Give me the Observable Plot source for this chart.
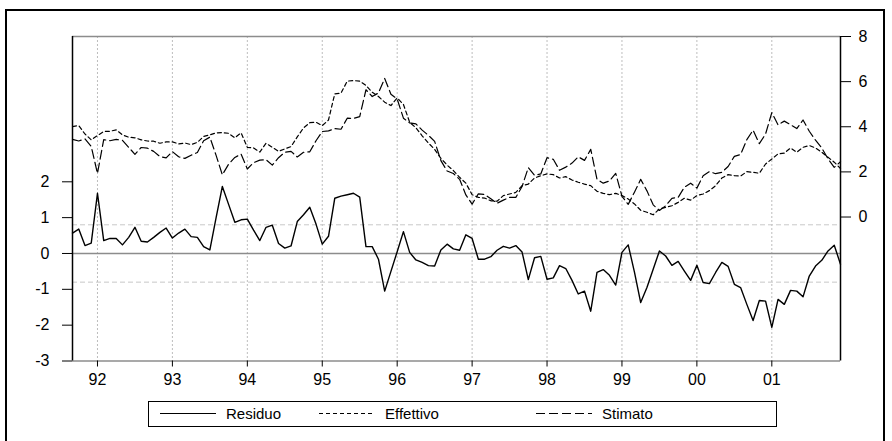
<!DOCTYPE html>
<html>
<head>
<meta charset="utf-8">
<script src="https://cdn.jsdelivr.net/npm/d3@7"></script>
<script src="https://cdn.jsdelivr.net/npm/@observablehq/plot@0.6"></script>
<style>
  html, body { margin: 0; padding: 0; background: #fff; }
  #wrap { position: relative; width: 892px; height: 441px; overflow: hidden; font-family: "Liberation Sans", Arial, sans-serif; }
  #border { position: absolute; left: 5px; top: 9px; width: 880px; height: 460px; border: 2px solid #000; box-sizing: border-box; }
  .layer { position: absolute; left: 0; top: 0; }
  .layer svg text { font-family: "Liberation Sans", Arial, sans-serif !important; font-size: 16px !important; fill: #000; }
  #legend { position: absolute; left: 148px; top: 401px; width: 629px; height: 26px; border: 1px solid #000; box-sizing: border-box; background: #fff; }
</style>
</head>
<body>
<div id="wrap">
  <div id="border"></div>
  <div id="resid" class="layer"></div>
  <div id="level" class="layer"></div>
  <div id="legend"></div>
</div>
<script>
// Monthly sample 1991:09 – 2001:12
const startYear = 1991, startMonth = 9;

// Residuo (left axis)
const residuo = [
  0.57, 0.68, 0.22, 0.29, 1.68, 0.36, 0.42, 0.42, 0.24, 0.45, 0.73, 0.34,
  0.32, 0.45, 0.59, 0.71, 0.43, 0.57, 0.68, 0.47, 0.45, 0.19, 0.10, 1.00,
  1.87, 1.37, 0.87, 0.94, 0.96, 0.65, 0.36, 0.73, 0.79, 0.28, 0.15, 0.21,
  0.89, 1.08, 1.29, 0.82, 0.26, 0.48, 1.54, 1.60, 1.64, 1.68, 1.57, 0.19,
  0.19, -0.16, -1.05, -0.50, 0.05, 0.61, 0.03, -0.18, -0.25, -0.34, -0.35, 0.10,
  0.26, 0.13, 0.09, 0.52, 0.42, -0.16, -0.16, -0.09, 0.09, 0.20, 0.15, 0.22,
  0.04, -0.73, -0.12, -0.08, -0.72, -0.68, -0.34, -0.42, -0.75, -1.13, -1.05, -1.61,
  -0.53, -0.45, -0.61, -0.88, 0.03, 0.24, -0.52, -1.37, -0.95, -0.44, 0.07, -0.07,
  -0.33, -0.22, -0.49, -0.75, -0.33, -0.81, -0.84, -0.53, -0.25, -0.36, -0.86, -0.95,
  -1.42, -1.87, -1.31, -1.33, -2.06, -1.28, -1.42, -1.03, -1.05, -1.21, -0.63, -0.35,
  -0.19, 0.07, 0.23, -0.30
];

// Effettivo (right axis)
const effettivo = [
  4.01, 4.05, 3.68, 3.42, 3.61, 3.79, 3.80, 3.86, 3.64, 3.54, 3.51, 3.42,
  3.37, 3.36, 3.27, 3.33, 3.33, 3.24, 3.28, 3.21, 3.31, 3.57, 3.64, 3.73,
  3.74, 3.71, 3.51, 3.73, 3.09, 3.06, 2.88, 3.27, 3.09, 2.91, 3.02, 3.12,
  3.55, 3.95, 4.18, 4.20, 4.05, 4.30, 5.46, 5.49, 6.02, 6.05, 6.02, 5.83,
  5.53, 5.34, 5.09, 4.94, 5.28, 4.99, 4.20, 3.95, 3.60, 3.28, 3.00, 2.60,
  2.30, 2.06, 1.76, 1.50, 0.99, 0.87, 0.84, 0.72, 0.70, 0.95, 1.02, 1.09,
  1.39, 1.46, 1.73, 1.83, 1.91, 1.88, 1.73, 1.79, 1.64, 1.54, 1.46, 1.39,
  1.14, 1.05, 0.99, 1.05, 0.95, 0.80, 0.58, 0.30, 0.21, 0.10, 0.36, 0.43,
  0.50, 0.65, 0.83, 0.75, 0.95, 1.02, 1.17, 1.39, 1.73, 1.88, 1.83, 1.82,
  2.01, 1.98, 1.94, 2.35, 2.57, 2.80, 2.83, 3.06, 2.87, 3.09, 3.17, 3.06,
  2.87, 2.65, 2.43, 2.15
];

// Stimato (right axis)
const stimato = [
  3.44, 3.37, 3.46, 3.13, 1.93, 3.43, 3.38, 3.44, 3.40, 3.09, 2.78, 3.08,
  3.05, 2.91, 2.68, 2.62, 2.90, 2.67, 2.60, 2.74, 2.86, 3.38, 3.54, 2.73,
  1.87, 2.34, 2.64, 2.79, 2.13, 2.41, 2.52, 2.54, 2.30, 2.63, 2.87, 2.91,
  2.66, 2.87, 2.89, 3.38, 3.79, 3.82, 3.92, 3.89, 4.38, 4.37, 4.45, 5.64,
  5.34, 5.50, 6.14, 5.44, 5.23, 4.38, 4.17, 4.13, 3.85, 3.62, 3.35, 2.50,
  2.04, 1.93, 1.67, 0.98, 0.57, 1.03, 1.00, 0.81, 0.61, 0.75, 0.87, 0.87,
  1.35, 2.19, 1.85, 1.91, 2.63, 2.56, 2.07, 2.21, 2.39, 2.67, 2.51, 3.00,
  1.67, 1.50, 1.60, 1.93, 0.92, 0.56, 1.10, 1.67, 1.16, 0.54, 0.29, 0.50,
  0.83, 0.87, 1.32, 1.50, 1.28, 1.83, 2.01, 1.92, 1.98, 2.24, 2.69, 2.77,
  3.43, 3.85, 3.25, 3.68, 4.63, 4.08, 4.25, 4.09, 3.92, 4.30, 3.80, 3.41,
  3.06, 2.58, 2.20, 2.45
];

// One standard error band around zero
const stdErr = 0.8;

const yearTicks = [1992, 1993, 1994, 1995, 1996, 1997, 1998, 1999, 2000, 2001];
const yearLabels = ["92", "93", "94", "95", "96", "97", "98", "99", "00", "01"];
const leftTicks = [-3, -2, -1, 0, 1, 2];
const rightTicks = [0, 2, 4, 6, 8];
const legendLabels = ["Residuo", "Effettivo", "Stimato"];

// Time as fractional year, one step per month
const t0 = startYear + (startMonth - 1) / 12;
const toRows = arr => arr.map((v, i) => ({t: t0 + i / 12, v}));
const rRows = toRows(residuo), eRows = toRows(effettivo), sRows = toRows(stimato);
const xDomain = [t0, t0 + (residuo.length - 1) / 12];

const W = 892, H = 391;
const FONT = "'Liberation Sans', Arial, sans-serif";
const common = {
  width: W, height: H,
  marginLeft: 72, marginRight: 52, marginTop: 36, marginBottom: 30.5,
  style: {fontFamily: FONT, fontSize: "16px", color: "#000", background: "transparent", overflow: "visible"}
};

// Residual layer: grid, reference lines, residual, left & bottom axes
const resid = Plot.plot({
  ...common,
  x: {domain: xDomain},
  y: {domain: [-3, 6.054]},
  marks: [
    Plot.ruleX(yearTicks, {stroke: "#bdbdbd", strokeDasharray: "2,2", strokeWidth: 1}),
    Plot.ruleY([-stdErr, stdErr], {stroke: "#c8c8c8", strokeDasharray: "5,3", strokeWidth: 1}),
    Plot.ruleY([0], {stroke: "#8c8c8c", strokeWidth: 1.5}),
    Plot.ruleY([-3, 6.054], {stroke: "#8c8c8c", strokeWidth: 1.5}),
    Plot.ruleX([xDomain[0]], {stroke: "#000", strokeWidth: 1.5}),
    Plot.line(rRows, {x: "t", y: "v", stroke: "#000", strokeWidth: 1.4}),
    Plot.axisY(leftTicks, {anchor: "left", tickSize: 10, tickPadding: 13, tickFormat: d => String(d), label: null}),
    Plot.axisX(yearTicks, {anchor: "bottom", tickSize: 6, tickPadding: 7, tickFormat: d => yearLabels[yearTicks.indexOf(d)], label: null})
  ]
});
document.getElementById("resid").append(resid);

// Level layer: actual and fitted, right axis
const level = Plot.plot({
  ...common,
  x: {domain: xDomain, axis: null},
  y: {domain: [-6.38, 8], axis: null},
  marks: [
    Plot.ruleX([xDomain[1]], {y1: -6.38, y2: 8, stroke: "#000", strokeWidth: 1.5}),
    Plot.line(eRows, {x: "t", y: "v", stroke: "#000", strokeWidth: 1.2, strokeDasharray: "4,3"}),
    Plot.line(sRows, {x: "t", y: "v", stroke: "#000", strokeWidth: 1.2, strokeDasharray: "9,4"}),
    Plot.axisY(rightTicks, {anchor: "right", tickSize: 10, tickPadding: 8, tickFormat: d => String(d), label: null})
  ]
});
document.getElementById("level").append(level);

// Legend row
const legendItems = [
  {label: legendLabels[0], x: 11, dash: null},
  {label: legendLabels[1], x: 170, dash: "4,3"},
  {label: legendLabels[2], x: 387, dash: "9,4"}
];
const ns = "http://www.w3.org/2000/svg";
const lsvg = document.createElementNS(ns, "svg");
lsvg.setAttribute("width", 627);
lsvg.setAttribute("height", 24);
lsvg.style.fontFamily = FONT;
lsvg.style.fontSize = "15px";
for (const it of legendItems) {
  const ln = document.createElementNS(ns, "line");
  ln.setAttribute("x1", it.x); ln.setAttribute("x2", it.x + 56);
  ln.setAttribute("y1", 11.5); ln.setAttribute("y2", 11.5);
  ln.setAttribute("stroke", "#000"); ln.setAttribute("stroke-width", 1.2);
  if (it.dash) ln.setAttribute("stroke-dasharray", it.dash);
  lsvg.append(ln);
  const tx = document.createElementNS(ns, "text");
  tx.setAttribute("x", it.x + 66); tx.setAttribute("y", 17);
  tx.textContent = it.label;
  lsvg.append(tx);
}
document.getElementById("legend").append(lsvg);
</script>
</body>
</html>
